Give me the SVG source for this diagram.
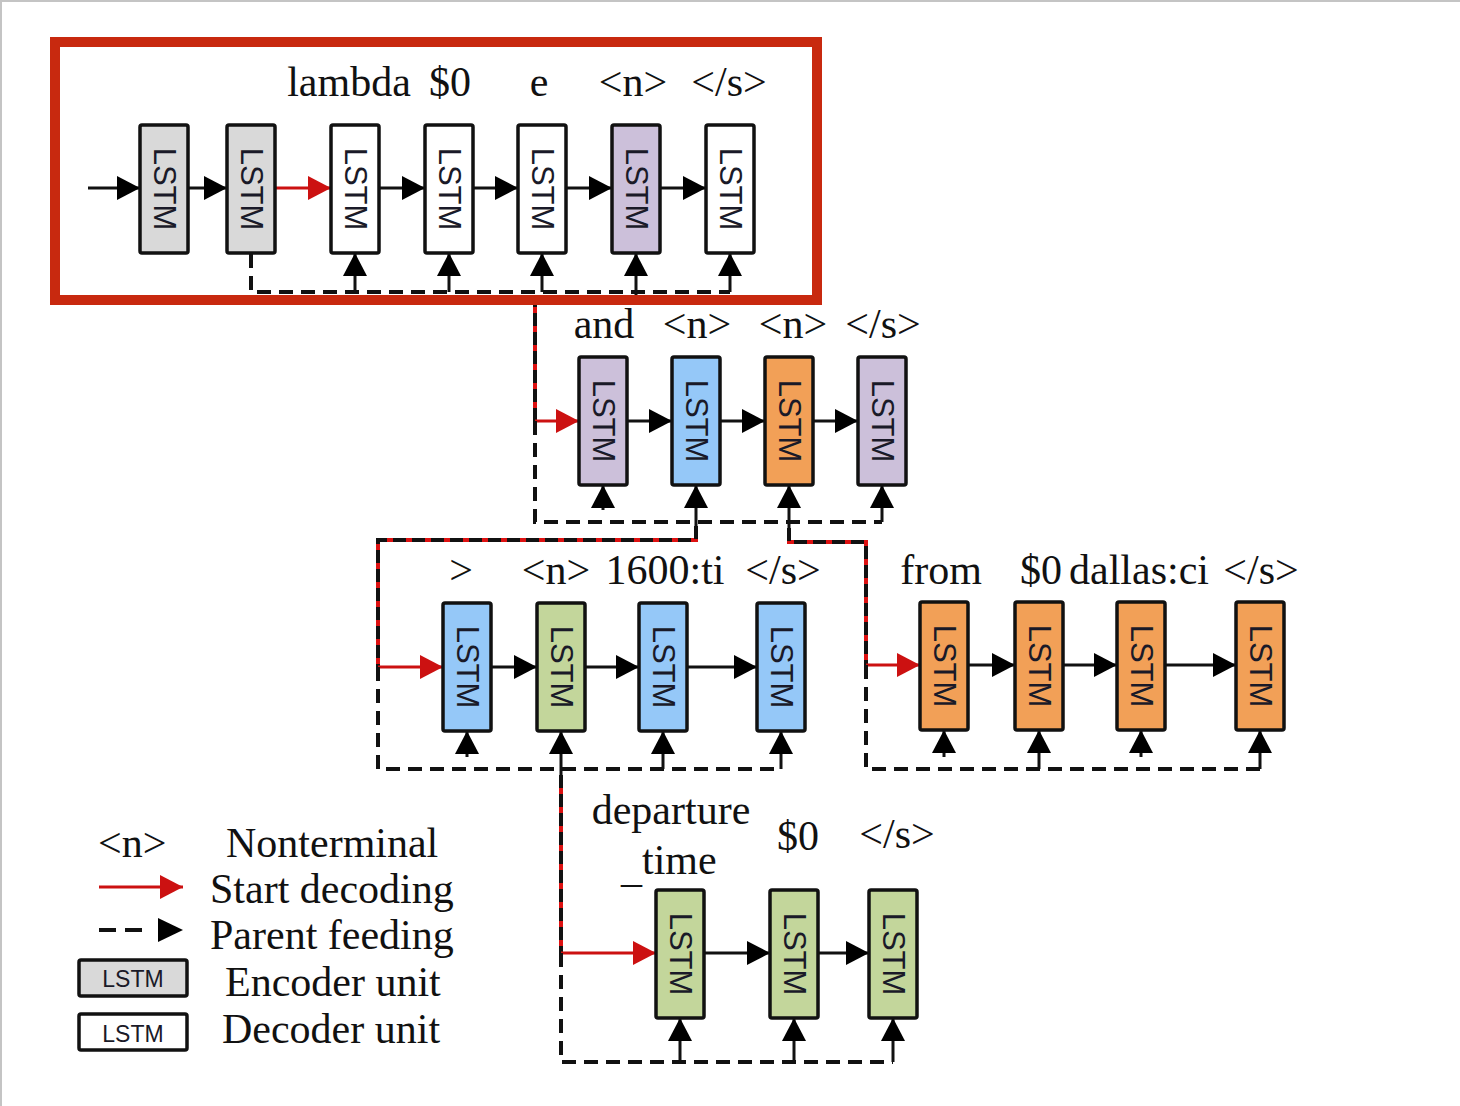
<svg xmlns="http://www.w3.org/2000/svg" width="1460" height="1106" viewBox="0 0 1460 1106">
<defs>
<style>
.lbl{font-family:"Liberation Serif","Times New Roman",serif;font-size:42px;fill:#111;}
.lg{font-family:"Liberation Serif","Times New Roman",serif;font-size:42px;fill:#111;}
.lstm{font-family:"Liberation Sans",Arial,sans-serif;font-size:31px;fill:#1a1a28;}
.lstms{font-family:"Liberation Sans",Arial,sans-serif;font-size:23px;fill:#1a1a28;}
.box{stroke:#111;stroke-width:3.5;}
.enc{fill:#d9d9d9;}
.dec{fill:#ffffff;}
.pur{fill:#ccc0da;}
.blu{fill:#95c8f8;}
.org{fill:#f2a057;}
.grn{fill:#c3d69b;}
.arr{fill:none;stroke:#111;stroke-width:3;marker-end:url(#ab);}
.rarr{fill:none;stroke:#cc1111;stroke-width:3;marker-end:url(#ar);}
.dash{fill:none;stroke:#111;stroke-width:4;stroke-dasharray:14 8;}
.rline{fill:none;stroke:#dd1111;stroke-width:4;}
.rdash{fill:none;stroke:#111;stroke-width:4;stroke-dasharray:13 6;}
</style>
<marker id="ab" markerUnits="userSpaceOnUse" markerWidth="23" markerHeight="24" refX="23" refY="12" orient="auto">
<path d="M0,0 L23,12 L0,24 z" fill="#000"/>
</marker>
<marker id="ar" markerUnits="userSpaceOnUse" markerWidth="23" markerHeight="24" refX="23" refY="12" orient="auto">
<path d="M0,0 L23,12 L0,24 z" fill="#cc1111"/>
</marker>
</defs>
<rect width="1460" height="1106" fill="#ffffff"/>
<path d="M0,1 H1460 M1,0 V1106" stroke="#c4c4c4" stroke-width="2" fill="none"/>

<g id="connectors">
<path class="arr" d="M88,188 H140"/>
<path class="arr" d="M188,188 H227"/>
<path class="rarr" d="M275,188 H331"/>
<path class="arr" d="M379,188 H425"/>
<path class="arr" d="M473,188 H518"/>
<path class="arr" d="M566,188 H612"/>
<path class="arr" d="M660,188 H706"/>
<path class="dash" d="M251,254 V292 H730"/>
<path class="arr" d="M355,292 V253"/>
<path class="arr" d="M449,292 V253"/>
<path class="arr" d="M542,292 V253"/>
<path class="arr" d="M636,300 V253"/>
<path class="arr" d="M730,292 V253"/>
<path class="rline" d="M636,300 H535 V421"/>
<path class="rdash" d="M636,300 H535 V421"/>
<path class="rarr" d="M535,421 H579"/>
<path class="dash" d="M535,421 V522 H882"/>
<path class="arr" d="M627,421 H672"/>
<path class="arr" d="M720,421 H765"/>
<path class="arr" d="M813,421 H858"/>
<path class="arr" d="M603,510 V485"/>
<path class="arr" d="M696,540 V485"/>
<path class="arr" d="M789,542 V485"/>
<path class="arr" d="M882,522 V485"/>
<path class="rline" d="M696,526 V540 H378 V667"/>
<path class="rdash" d="M696,526 V540 H378 V667"/>
<path class="rarr" d="M378,667 H443"/>
<path class="dash" d="M378,667 V769 H781"/>
<path class="arr" d="M491,667 H537"/>
<path class="arr" d="M585,667 H639"/>
<path class="arr" d="M687,667 H757"/>
<path class="arr" d="M467,757 V731"/>
<path class="arr" d="M561,775 V731"/>
<path class="arr" d="M663,769 V731"/>
<path class="arr" d="M781,769 V731"/>
<path class="rline" d="M789,528 V542 H866 V665"/>
<path class="rdash" d="M789,528 V542 H866 V665"/>
<path class="rarr" d="M866,665 H920"/>
<path class="dash" d="M866,665 V769 H1260"/>
<path class="arr" d="M968,665 H1015"/>
<path class="arr" d="M1063,665 H1117"/>
<path class="arr" d="M1165,665 H1236"/>
<path class="arr" d="M944,757 V730"/>
<path class="arr" d="M1039,769 V730"/>
<path class="arr" d="M1141,757 V730"/>
<path class="arr" d="M1260,769 V730"/>
<path class="rline" d="M561,775 V953"/>
<path class="rdash" d="M561,775 V953"/>
<path class="rarr" d="M561,953 H656"/>
<path class="dash" d="M561,953 V1062 H893"/>
<path class="arr" d="M704,953 H770"/>
<path class="arr" d="M818,953 H869"/>
<path class="arr" d="M680,1062 V1018"/>
<path class="arr" d="M794,1062 V1018"/>
<path class="arr" d="M893,1062 V1018"/>
</g>

<g id="red-frame">
<rect x="55" y="42" width="762" height="258" fill="none" stroke="#c8290f" stroke-width="10"/>
</g>

<g id="row1-labels">
<text class="lbl" x="349" y="96" text-anchor="middle">lambda</text>
<text class="lbl" x="450" y="96" text-anchor="middle">$0</text>
<text class="lbl" x="539" y="96" text-anchor="middle">e</text>
<text class="lbl" x="633" y="96" text-anchor="middle">&lt;n&gt;</text>
<text class="lbl" x="729" y="96" text-anchor="middle">&lt;/s&gt;</text>
</g>
<g id="n1-1"><rect class="box enc" x="140" y="125" width="48" height="128" rx="2"/><text class="lstm" transform="translate(164,189) rotate(90)" text-anchor="middle" dominant-baseline="central">LSTM</text></g>
<g id="n1-2"><rect class="box enc" x="227" y="125" width="48" height="128" rx="2"/><text class="lstm" transform="translate(251,189) rotate(90)" text-anchor="middle" dominant-baseline="central">LSTM</text></g>
<g id="n1-3"><rect class="box dec" x="331" y="125" width="48" height="128" rx="2"/><text class="lstm" transform="translate(355,189) rotate(90)" text-anchor="middle" dominant-baseline="central">LSTM</text></g>
<g id="n1-4"><rect class="box dec" x="425" y="125" width="48" height="128" rx="2"/><text class="lstm" transform="translate(449,189) rotate(90)" text-anchor="middle" dominant-baseline="central">LSTM</text></g>
<g id="n1-5"><rect class="box dec" x="518" y="125" width="48" height="128" rx="2"/><text class="lstm" transform="translate(542,189) rotate(90)" text-anchor="middle" dominant-baseline="central">LSTM</text></g>
<g id="n1-6"><rect class="box pur" x="612" y="125" width="48" height="128" rx="2"/><text class="lstm" transform="translate(636,189) rotate(90)" text-anchor="middle" dominant-baseline="central">LSTM</text></g>
<g id="n1-7"><rect class="box dec" x="706" y="125" width="48" height="128" rx="2"/><text class="lstm" transform="translate(730,189) rotate(90)" text-anchor="middle" dominant-baseline="central">LSTM</text></g>

<g id="row2-labels">
<text class="lbl" x="604" y="338" text-anchor="middle">and</text>
<text class="lbl" x="697" y="338" text-anchor="middle">&lt;n&gt;</text>
<text class="lbl" x="793" y="338" text-anchor="middle">&lt;n&gt;</text>
<text class="lbl" x="883" y="338" text-anchor="middle">&lt;/s&gt;</text>
</g>
<g id="n2-1"><rect class="box pur" x="579" y="357" width="48" height="128" rx="2"/><text class="lstm" transform="translate(603,421) rotate(90)" text-anchor="middle" dominant-baseline="central">LSTM</text></g>
<g id="n2-2"><rect class="box blu" x="672" y="357" width="48" height="128" rx="2"/><text class="lstm" transform="translate(696,421) rotate(90)" text-anchor="middle" dominant-baseline="central">LSTM</text></g>
<g id="n2-3"><rect class="box org" x="765" y="357" width="48" height="128" rx="2"/><text class="lstm" transform="translate(789,421) rotate(90)" text-anchor="middle" dominant-baseline="central">LSTM</text></g>
<g id="n2-4"><rect class="box pur" x="858" y="357" width="48" height="128" rx="2"/><text class="lstm" transform="translate(882,421) rotate(90)" text-anchor="middle" dominant-baseline="central">LSTM</text></g>

<g id="row3a-labels">
<text class="lbl" x="461" y="584" text-anchor="middle">&gt;</text>
<text class="lbl" x="556" y="584" text-anchor="middle">&lt;n&gt;</text>
<text class="lbl" x="665" y="584" text-anchor="middle">1600:ti</text>
<text class="lbl" x="783" y="584" text-anchor="middle">&lt;/s&gt;</text>
</g>
<g id="n3a-1"><rect class="box blu" x="443" y="603" width="48" height="128" rx="2"/><text class="lstm" transform="translate(467,667) rotate(90)" text-anchor="middle" dominant-baseline="central">LSTM</text></g>
<g id="n3a-2"><rect class="box grn" x="537" y="603" width="48" height="128" rx="2"/><text class="lstm" transform="translate(561,667) rotate(90)" text-anchor="middle" dominant-baseline="central">LSTM</text></g>
<g id="n3a-3"><rect class="box blu" x="639" y="603" width="48" height="128" rx="2"/><text class="lstm" transform="translate(663,667) rotate(90)" text-anchor="middle" dominant-baseline="central">LSTM</text></g>
<g id="n3a-4"><rect class="box blu" x="757" y="603" width="48" height="128" rx="2"/><text class="lstm" transform="translate(781,667) rotate(90)" text-anchor="middle" dominant-baseline="central">LSTM</text></g>

<g id="row3b-labels">
<text class="lbl" x="941" y="584" text-anchor="middle">from</text>
<text class="lbl" x="1041" y="584" text-anchor="middle">$0</text>
<text class="lbl" x="1139" y="584" text-anchor="middle">dallas:ci</text>
<text class="lbl" x="1261" y="584" text-anchor="middle">&lt;/s&gt;</text>
</g>
<g id="n3b-1"><rect class="box org" x="920" y="602" width="48" height="128" rx="2"/><text class="lstm" transform="translate(944,666) rotate(90)" text-anchor="middle" dominant-baseline="central">LSTM</text></g>
<g id="n3b-2"><rect class="box org" x="1015" y="602" width="48" height="128" rx="2"/><text class="lstm" transform="translate(1039,666) rotate(90)" text-anchor="middle" dominant-baseline="central">LSTM</text></g>
<g id="n3b-3"><rect class="box org" x="1117" y="602" width="48" height="128" rx="2"/><text class="lstm" transform="translate(1141,666) rotate(90)" text-anchor="middle" dominant-baseline="central">LSTM</text></g>
<g id="n3b-4"><rect class="box org" x="1236" y="602" width="48" height="128" rx="2"/><text class="lstm" transform="translate(1260,666) rotate(90)" text-anchor="middle" dominant-baseline="central">LSTM</text></g>

<g id="row4-labels">
<text class="lbl" x="671" y="824" text-anchor="middle">departure</text>
<text class="lbl" x="621" y="874"><tspan dy="8">_</tspan><tspan dy="-8">time</tspan></text>
<text class="lbl" x="798" y="850" text-anchor="middle">$0</text>
<text class="lbl" x="897" y="848" text-anchor="middle">&lt;/s&gt;</text>
</g>
<g id="n4-1"><rect class="box grn" x="656" y="890" width="48" height="128" rx="2"/><text class="lstm" transform="translate(680,954) rotate(90)" text-anchor="middle" dominant-baseline="central">LSTM</text></g>
<g id="n4-2"><rect class="box grn" x="770" y="890" width="48" height="128" rx="2"/><text class="lstm" transform="translate(794,954) rotate(90)" text-anchor="middle" dominant-baseline="central">LSTM</text></g>
<g id="n4-3"><rect class="box grn" x="869" y="890" width="48" height="128" rx="2"/><text class="lstm" transform="translate(893,954) rotate(90)" text-anchor="middle" dominant-baseline="central">LSTM</text></g>

<g id="legend">
<text class="lg" x="98" y="857">&lt;n&gt;</text>
<text class="lg" x="226" y="857">Nonterminal</text>
<path class="rarr" d="M99,887 H183"/>
<text class="lg" x="210" y="903">Start decoding</text>
<path d="M99,930 H143" fill="none" stroke="#111" stroke-width="4" stroke-dasharray="17 9"/>
<path d="M158,918 L183,930 L158,942 z" fill="#000"/>
<text class="lg" x="210" y="949">Parent feeding</text>
<rect class="box enc" x="79" y="960" width="108" height="36" rx="2"/>
<text class="lstms" x="133" y="987" text-anchor="middle">LSTM</text>
<text class="lg" x="225" y="996">Encoder unit</text>
<rect class="box dec" x="79" y="1014" width="108" height="36" rx="2"/>
<text class="lstms" x="133" y="1042" text-anchor="middle">LSTM</text>
<text class="lg" x="222" y="1043">Decoder unit</text>
</g>
</svg>
